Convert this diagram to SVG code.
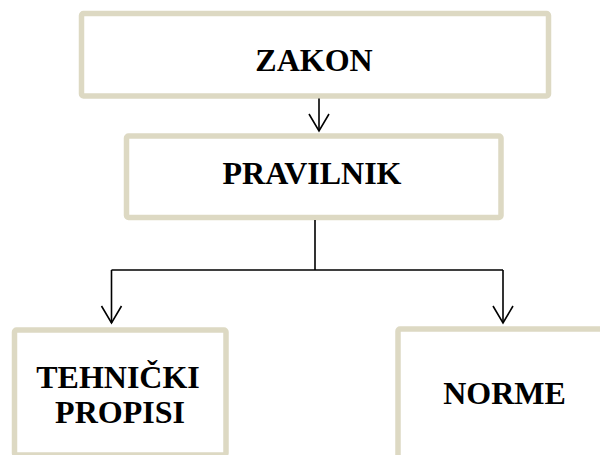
<svg xmlns="http://www.w3.org/2000/svg" width="600" height="455" viewBox="0 0 600 455">
<style>
.box{fill:#ffffff;stroke:#DDD9C3;stroke-width:5.5}
.lbl{font-family:"Liberation Serif","Times New Roman",serif;font-weight:bold;font-size:32px;fill:#000;text-anchor:middle}
.conn{fill:none;stroke:#000;stroke-width:1.6}
</style>
<defs>
<marker id="arr" markerUnits="userSpaceOnUse" markerWidth="22" markerHeight="24" viewBox="-19 -12 22 24" refX="0" refY="0" orient="auto">
<path d="M-17,-10 L0,0 L-17,10" fill="none" stroke="#000" stroke-width="1.6"/>
</marker>
</defs>
<rect width="600" height="455" fill="#fff"/>
<g id="zakon">
<rect class="box" x="81.5" y="13.5" width="467" height="82.5" rx="2"/>
<text class="lbl" x="314" y="70.5">ZAKON</text>
</g>
<g id="pravilnik">
<rect class="box" x="126.5" y="136" width="374.5" height="81.5" rx="2"/>
<text class="lbl" x="312" y="183.5">PRAVILNIK</text>
</g>
<g id="tehnicki">
<rect class="box" x="14.5" y="330" width="211.5" height="125" rx="2"/>
<text class="lbl" x="118" y="388">TEHNIČKI</text>
<text class="lbl" x="120" y="423">PROPISI</text>
</g>
<g id="norme">
<rect class="box" x="398" y="329" width="210" height="130" rx="2"/>
<text class="lbl" x="504.5" y="404">NORME</text>
</g>
<g id="connectors">
<path class="conn" d="M319,98.5 V131" marker-end="url(#arr)"/>
<path class="conn" d="M315,220 V270 M111.5,270 H503"/>
<path class="conn" d="M111.5,270 V323" marker-end="url(#arr)"/>
<path class="conn" d="M503,270 V323" marker-end="url(#arr)"/>
</g>
</svg>
